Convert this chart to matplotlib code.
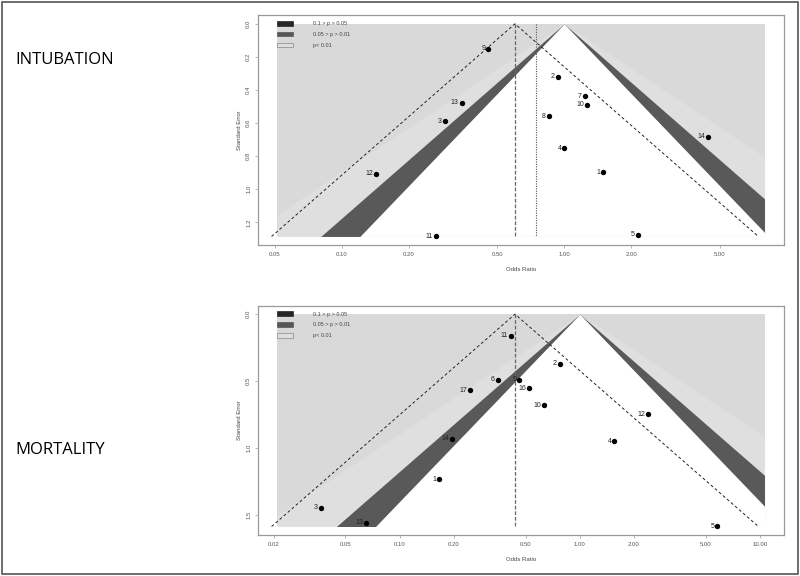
import numpy as np
import matplotlib
matplotlib.use("Agg")
import matplotlib.pyplot as plt
from matplotlib.patches import Patch, Rectangle
from matplotlib.ticker import FixedLocator, NullLocator

plt.rcParams['font.family'] = ['Liberation Sans', 'DejaVu Sans']

# INTUBATION: odds ratios, standard errors and study numbers
intub_or = [1.50, 0.937, 0.291, 1.003, 2.15, 1.235, 0.856, 0.456, 1.273, 0.265, 0.143, 0.346, 4.42]
intub_se = [0.897, 0.320, 0.588, 0.753, 1.275, 0.437, 0.560, 0.151, 0.488, 1.285, 0.906, 0.476, 0.683]
intub_lab = ["1", "2", "3", "4", "5", "7", "8", "9", "10", "11", "12", "13", "14"]
intub_est = 0.601      # pooled estimate (dashed)
intub_adj = 0.746      # second estimate (dotted)
intub_xrange = [0.0515, 7.95]
intub_xticks = [0.05, 0.10, 0.20, 0.50, 1.00, 2.00, 5.00]
intub_yticks = [0.0, 0.2, 0.4, 0.6, 0.8, 1.0, 1.2]

# MORTALITY
mort_or = [0.166, 0.774, 0.0366, 1.556, 5.79, 0.350, 0.462, 0.636, 0.415, 2.395, 0.0652, 0.195, 0.525, 0.246]
mort_se = [1.234, 0.369, 1.446, 0.951, 1.587, 0.490, 0.490, 0.679, 0.160, 0.749, 1.560, 0.933, 0.555, 0.567]
mort_lab = ["1", "2", "3", "4", "5", "6", "9", "10", "11", "12", "13", "14", "16", "17"]
mort_est = 0.437
mort_xrange = [0.021, 10.6]
mort_xticks = [0.02, 0.05, 0.10, 0.20, 0.50, 1.00, 2.00, 5.00, 10.00]
mort_yticks = [0.0, 0.5, 1.0, 1.5]

# contour levels (p = 0.10, 0.05, 0.01)
z_levels = [1.645, 1.960, 2.576]
legend_labels = ["0.1 > p > 0.05", "0.05 > p > 0.01", "p< 0.01"]
legend_colors = ["#262626", "#575757", "#dedede"]

FS = 4.3
GRAY = "#9a9a9a"


def funnel(ax, ors, ses, labs, est, xr, xticks, yticks, adj=None):
    semax = max(ses)
    lo, hi = xr
    # log range with 4% margin like R
    l0, l1 = np.log10(lo), np.log10(hi)
    pad = 0.04 * (l1 - l0)
    ax.set_xscale("log")
    ax.set_xlim(10 ** (l0 - pad), 10 ** (l1 + pad))
    ax.set_ylim(semax * 1.04, -0.04 * semax)

    # background: p < 0.01
    ax.add_patch(Rectangle((lo, 0), hi - lo, semax, fc="#d9d9d9", ec="none", zorder=0))
    se = np.linspace(0, semax, 300)
    fills = ["#dfdfdf", "#595959", "white"]
    for z, c in zip(z_levels[::-1], fills):
        left = np.clip(np.exp(-z * se), lo, hi)
        right = np.clip(np.exp(z * se), lo, hi)
        ax.fill_betweenx(se, left, right, color=c, lw=0, zorder=1)

    # pseudo confidence funnel
    fl = est * np.exp(-1.96 * semax)
    fr = est * np.exp(1.96 * semax)
    ax.plot([fl, est, fr], [semax, 0, semax], color="#222222", ls=(0, (3, 2.5)), lw=0.7, zorder=2)
    ax.plot([est, est], [0, semax], color="#666666", ls=(0, (3, 1.5)), lw=0.9, zorder=2)
    if adj is not None:
        ax.plot([adj, adj], [0, semax], color="#555555", ls=(0, (1, 1.2)), lw=0.8, zorder=2)

    ax.scatter(ors, ses, s=15, color="black", zorder=3, lw=0)
    for x, y, t in zip(ors, ses, labs):
        ax.annotate(t, (x, y), xytext=(-2.2, 0), textcoords="offset points",
                    ha="right", va="center", fontsize=5, color="#222222", zorder=4)

    ax.xaxis.set_major_locator(FixedLocator(xticks))
    ax.xaxis.set_minor_locator(NullLocator())
    ax.set_xticklabels(["%.2f" % v for v in xticks])
    ax.set_yticks(yticks)
    ax.set_yticklabels(["%.1f" % v for v in yticks], rotation=90, va="center")
    ax.tick_params(labelsize=FS, length=2.5, width=0.5, pad=2.5, color=GRAY, labelcolor="#555555")
    for s in ax.spines.values():
        s.set_color(GRAY)
        s.set_linewidth(0.9)
    ax.set_xlabel("Odds Ratio", fontsize=FS, color="#444444", labelpad=7)
    ax.set_ylabel("Standard Error", fontsize=FS, color="#444444", labelpad=3)

    handles = [Patch(fc=c, ec="#888888" if i == 2 else c, lw=0.5) for i, c in enumerate(legend_colors)]
    ax.legend(handles, legend_labels, loc="upper left", bbox_to_anchor=(0.036, 0.975),
              frameon=False, fontsize=4, handlelength=2.9, handleheight=0.9,
              handletextpad=3.6, labelspacing=1.0, borderpad=0, borderaxespad=0,
              labelcolor="#444444")


fig = plt.figure(figsize=(8, 5.76), dpi=100)
ax1 = fig.add_axes([0.3225, 0.5747, 0.6575, 0.3987])
ax2 = fig.add_axes([0.3225, 0.0712, 0.6575, 0.3981])

funnel(ax1, intub_or, intub_se, intub_lab, intub_est, intub_xrange, intub_xticks, intub_yticks, adj=intub_adj)
funnel(ax2, mort_or, mort_se, mort_lab, mort_est, mort_xrange, mort_xticks, mort_yticks)

fig.text(15 / 800, 1 - 60 / 576, "INTUBATION", fontsize=12, family="Open Sans", va="center", ha="left")
fig.text(15 / 800, 1 - 450 / 576, "MORTALITY", fontsize=12, family="Open Sans", va="center", ha="left")

# outer frame
fig.add_artist(Rectangle((0.003, 0.004), 0.994, 0.993, transform=fig.transFigure,
                         fill=False, ec="#555555", lw=1.2))

fig.savefig("out.png", dpi=100)
